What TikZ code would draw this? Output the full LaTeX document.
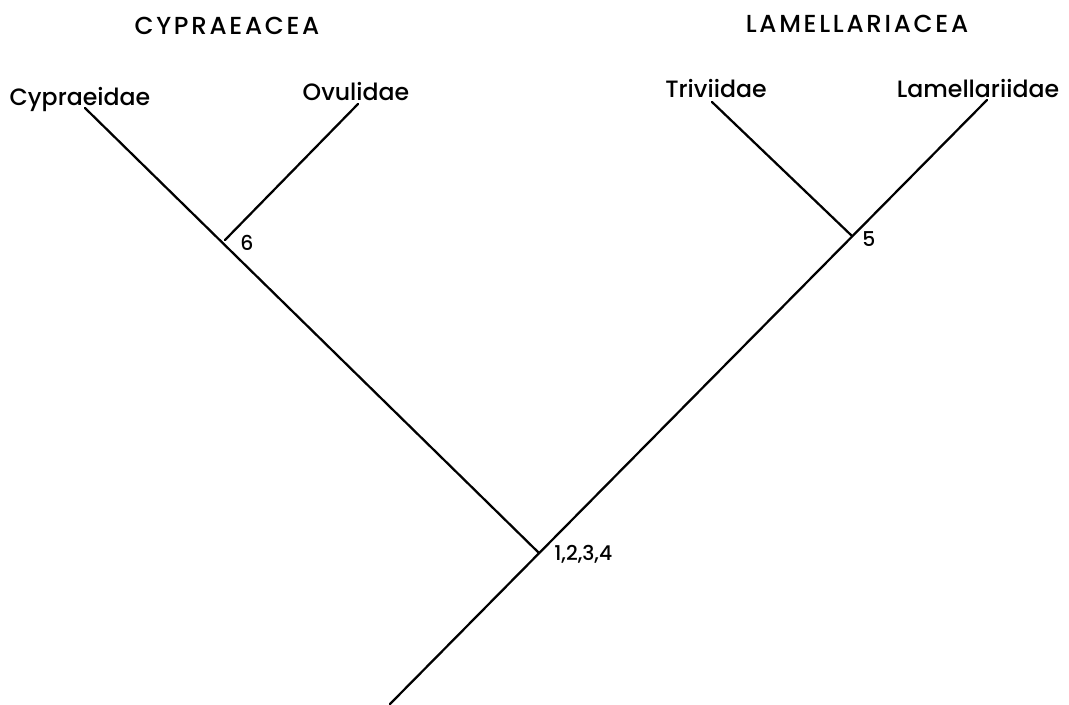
\documentclass[tikz,border=0pt]{standalone}
\usepackage{fontspec}
\setmainfont{Poppins}[UprightFont={* Medium}]
\usetikzlibrary{positioning}
\tikzset{
  family/.style={
    font=\fontsize{16.8}{19}\selectfont,
    anchor=base,
    inner sep=0pt
  },
  superfamily/.style={
    font=\fontsize{17.5}{20}\selectfont\addfontfeature{LetterSpace=11},
    anchor=base,
    inner sep=0pt
  },
  apomorphy/.style={
    font=\fontsize{14.5}{17}\selectfont,
    anchor=base west,
    inner sep=0pt
  },
  branch/.style={line width=1.6pt, draw=black, line cap=round}
}
\begin{document}
\begin{tikzpicture}[x=0.025cm, y=-0.025cm]
  \useasboundingbox (0,0) rectangle (1069,704);
  % branch points
  \coordinate (base) at (390,704);
  \coordinate (root) at (539,553);
  \coordinate (cyp) at (225,240);
  \coordinate (lam) at (852,236);
  % tips
  \coordinate (cypraeidaeTip) at (85,108);
  \coordinate (ovulidaeTip) at (358,104);
  \coordinate (triviidaeTip) at (712,102);
  \coordinate (lamellariidaeTip) at (987,100);

  \node[superfamily] (cypraeacea) at (227,34) {CYPRAEACEA};
  \node[superfamily] (lamellariacea) at (857,32) {LAMELLARIACEA};

  \node[family] (cypraeidae) at (80,105) {Cypraeidae};
  \node[family] (ovulidae) at (356,100) {Ovulidae};
  \node[family] (triviidae) at (716,97) {Triviidae};
  \node[family] (lamellariidae) at (978,97) {Lamellariidae};

  \node[apomorphy] (char6) at (240,250) {6};
  \node[apomorphy] (char5) at (862,246) {5};
  \node[apomorphy] (char1234) at (554,560) {1,2,3,4};

  \draw[branch] (cypraeidaeTip) -- (root);
  \draw[branch] (ovulidaeTip) -- (cyp);
  \draw[branch] (triviidaeTip) -- (lam);
  \draw[branch] (lamellariidaeTip) -- (base);
\end{tikzpicture}
\end{document}
